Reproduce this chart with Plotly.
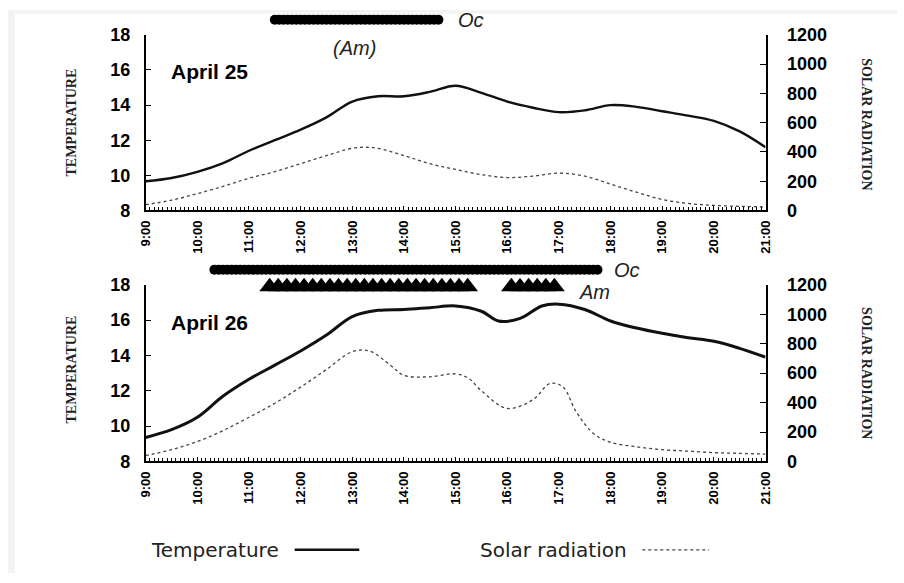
import plotly.graph_objects as go

# ---- data -------------------------------------------------------------
hour_ticks = list(range(9, 22))
hour_labels = [f"{h}:00" for h in hour_ticks]

# April 25 (decimal hours)
t25_temp = [9.0, 9.5, 10.0, 10.5, 11.0, 11.5, 12.0, 12.5, 13.0, 13.5, 14.0, 14.5, 15.0,
            15.5, 16.0, 16.5, 17.0, 17.5, 18.0, 18.5, 19.0, 19.5, 20.0, 20.5, 21.0]
temp25 = [9.66, 9.85, 10.2, 10.7, 11.4, 12.0, 12.6, 13.3, 14.2, 14.5, 14.5, 14.75, 15.1,
          14.7, 14.2, 13.85, 13.6, 13.7, 14.0, 13.9, 13.65, 13.4, 13.1, 12.5, 11.6]
t25_rad = [9.0, 9.5, 10.0, 10.5, 11.0, 11.5, 12.0, 12.5, 13.0, 13.25, 13.5, 14.0, 14.5,
           15.0, 15.5, 16.0, 16.5, 17.0, 17.5, 18.0, 18.5, 19.0, 19.5, 20.0, 20.5, 21.0]
rad25 = [40, 70, 115, 165, 220, 265, 320, 375, 425, 432, 425, 375, 320,
         280, 245, 225, 235, 255, 235, 180, 125, 75, 48, 35, 28, 25]

# April 26
t26_temp = [9.0, 9.5, 10.0, 10.5, 11.0, 11.5, 12.0, 12.5, 13.0, 13.5, 14.0, 14.5, 15.0,
            15.5, 15.83, 16.25, 16.67, 17.0, 17.5, 18.0, 18.5, 19.0, 19.5, 20.0, 20.5, 21.0]
temp26 = [9.36, 9.8, 10.5, 11.7, 12.65, 13.45, 14.25, 15.15, 16.2, 16.55, 16.6, 16.7, 16.8,
          16.5, 15.95, 16.1, 16.8, 16.9, 16.6, 15.95, 15.55, 15.25, 15.0, 14.8, 14.4, 13.9]
t26_rad = [9.0, 9.5, 10.0, 10.5, 11.0, 11.5, 12.0, 12.5, 13.0, 13.33, 13.75, 14.0, 14.5,
           15.0, 15.25, 15.5, 16.0, 16.5, 16.83, 17.08, 17.33, 17.67, 18.0, 18.5, 19.0,
           19.5, 20.0, 20.5, 21.0]
rad26 = [40, 80, 135, 210, 300, 395, 505, 625, 745, 750, 650, 585, 575,
         595, 565, 480, 360, 420, 530, 505, 340, 190, 130, 100, 80,
         70, 60, 55, 50]

# observation periods (start, end, step in hours)
oc25_period = (11.5, 14.67, 1 / 12)
oc26_period = (10.33, 17.75, 1 / 12)
am26_periods = [(11.4, 15.34, 1 / 6), (16.08, 16.95, 1 / 6)]


def span(start, end, step):
    out, v = [], start
    while v <= end + 1e-9:
        out.append(v)
        v += step
    return out


W, H = 904, 583
FONT = "Liberation Sans"


def py(px):
    """pixel row from the top -> paper fraction"""
    return 1 - px / H


def pxf(px):
    """pixel column from the left -> paper fraction"""
    return px / W


X_DOM = [pxf(140.0), pxf(770.3)]
TOP_DOM = [py(207.6), py(25.7)]
BOT_DOM = [py(467.5), py(284.5)]

fig = go.Figure()

# temperature / radiation curves
fig.add_trace(go.Scatter(x=t25_temp, y=temp25, mode="lines", line_shape="spline",
                         line=dict(color="#111", width=2.4), xaxis="x", yaxis="y"))
fig.add_trace(go.Scatter(x=t25_rad, y=rad25, mode="lines", line_shape="spline",
                         line=dict(color="#444", width=1.3, dash="dot"), xaxis="x", yaxis="y2"))
fig.add_trace(go.Scatter(x=t26_temp, y=temp26, mode="lines", line_shape="spline",
                         line=dict(color="#111", width=3), xaxis="x2", yaxis="y3"))
fig.add_trace(go.Scatter(x=t26_rad, y=rad26, mode="lines", line_shape="spline",
                         line=dict(color="#444", width=1.3, dash="dot"), xaxis="x2", yaxis="y4"))

# observation symbol rows (own thin strip axes above each panel)
oc25 = span(*oc25_period)
fig.add_trace(go.Scatter(x=oc25, y=[0] * len(oc25), mode="markers", cliponaxis=False,
                         marker=dict(symbol="circle", size=10, color="black"),
                         xaxis="x", yaxis="y5"))
oc26 = span(*oc26_period)
fig.add_trace(go.Scatter(x=oc26, y=[0] * len(oc26), mode="markers", cliponaxis=False,
                         marker=dict(symbol="circle", size=10, color="black"),
                         xaxis="x2", yaxis="y6"))
for p in am26_periods:
    am = span(*p)
    fig.add_trace(go.Scatter(x=am, y=[17.89] * len(am), mode="markers", cliponaxis=False,
                             marker=dict(symbol="triangle-up", size=18, color="black"),
                             xaxis="x2", yaxis="y3"))

xcommon = dict(range=[9, 21], tickvals=hour_ticks, ticktext=hour_labels, tickangle=-90,
               ticks="inside", ticklen=5, tickwidth=1.2, tickcolor="black",
               showline=True, linecolor="black", linewidth=1.6, showgrid=False,
               zeroline=False, ticklabelstandoff=3,
               tickfont=dict(family=FONT, size=13, color="black", weight="bold"),
               minor=dict(dtick=1 / 12, ticks="inside", ticklen=4, tickcolor="black",
                          tickwidth=1, showgrid=False))
yleft = dict(range=[8, 18], dtick=2, ticks="inside", ticklen=6, tickcolor="black",
             showline=True, linecolor="black", linewidth=1.6, showgrid=False, zeroline=False,
             tickfont=dict(family=FONT, size=18, color="black", weight="bold"),
             ticklabelstandoff=10)
yright = dict(range=[0, 1200], dtick=200, ticks="inside", ticklen=6, tickcolor="black",
              showline=True, linecolor="black", linewidth=1.6, showgrid=False, zeroline=False,
              side="right", tickfont=dict(family=FONT, size=18, color="black", weight="bold"),
              ticklabelstandoff=16)
strip = dict(range=[-1, 1], visible=False, fixedrange=True)

fig.update_layout(
    width=W, height=H, margin=dict(l=0, r=0, t=0, b=0),
    paper_bgcolor="white", plot_bgcolor="rgba(0,0,0,0)", showlegend=False,
    xaxis=dict(domain=X_DOM, anchor="y", **xcommon),
    xaxis2=dict(domain=X_DOM, anchor="y3", **xcommon),
    yaxis=dict(domain=TOP_DOM, anchor="x", **yleft),
    yaxis2=dict(overlaying="y", anchor="x", **yright),
    yaxis3=dict(domain=BOT_DOM, anchor="x2", **yleft),
    yaxis4=dict(overlaying="y3", anchor="x2", **yright),
    yaxis5=dict(domain=[py(20.1), py(0.1)], anchor="x", **strip),
    yaxis6=dict(domain=[py(278.9), py(258.9)], anchor="x2", **strip),
)

ann = []
title_font = dict(family="Liberation Serif", size=14, color="#222", weight="bold")
for yl, yr in ((116.1, 118.2), (371.8, 376.0)):
    ann.append(dict(x=pxf(64.5), y=py(yl), xref="paper", yref="paper", text="TEMPERATURE",
                    textangle=-90, showarrow=False, xanchor="center", yanchor="middle",
                    font=title_font))
    ann.append(dict(x=pxf(873.5), y=py(yr), xref="paper", yref="paper",
                    text="SOLAR RADIATION", textangle=90, showarrow=False,
                    xanchor="center", yanchor="middle", font=title_font))

bold = dict(family=FONT, size=21, color="black", weight="bold")
ann.append(dict(x=pxf(164.2), y=py(64.2), xref="paper", yref="paper", text="April 25",
                xanchor="left", yanchor="middle", showarrow=False, font=bold))
ann.append(dict(x=pxf(164.2), y=py(324.0), xref="paper", yref="paper", text="April 26",
                xanchor="left", yanchor="middle", showarrow=False, font=bold))

ital = dict(family=FONT, size=20, color="#222", style="italic")
ann.append(dict(x=pxf(455.5), y=py(10.1), xref="paper", yref="paper", text="Oc",
                xanchor="left", yanchor="middle", showarrow=False, font=ital))
ann.append(dict(x=pxf(352.1), y=py(39.2), xref="paper", yref="paper", text="(Am)",
                xanchor="center", yanchor="middle", showarrow=False, font=ital))
ann.append(dict(x=pxf(614.5), y=py(268.9), xref="paper", yref="paper", text="Oc",
                xanchor="left", yanchor="middle", showarrow=False, font=ital))
ann.append(dict(x=pxf(579.0), y=py(291.5), xref="paper", yref="paper", text="Am",
                xanchor="left", yanchor="middle", showarrow=False, font=ital))

leg_font = dict(family="DejaVu Sans", size=20, color="#222")
ann.append(dict(x=pxf(143.0), y=py(559.0), xref="paper", yref="paper", text="Temperature",
                xanchor="left", yanchor="middle", showarrow=False, font=leg_font))
ann.append(dict(x=pxf(478.0), y=py(559.0), xref="paper", yref="paper",
                text="Solar radiation", xanchor="left", yanchor="middle", showarrow=False,
                font=leg_font))

shapes = [
    dict(type="rect", xref="paper", yref="paper", x0=0, x1=pxf(7), y0=0, y1=1,
         fillcolor="#f3f3f3", line=dict(width=0), layer="below"),
    dict(type="rect", xref="paper", yref="paper", x0=0, x1=1, y0=py(4), y1=1,
         fillcolor="#f3f3f3", line=dict(width=0), layer="below"),
    dict(type="line", xref="paper", yref="paper", x0=pxf(291.5), x1=pxf(357.2),
         y0=py(559.0), y1=py(559.0), line=dict(color="#111", width=2.6)),
    dict(type="line", xref="paper", yref="paper", x0=pxf(645.0), x1=pxf(713.0),
         y0=py(559.0), y1=py(559.0), line=dict(color="#444", width=1.3, dash="dot")),
]
fig.update_layout(annotations=ann, shapes=shapes)

fig.write_html("out.html")
